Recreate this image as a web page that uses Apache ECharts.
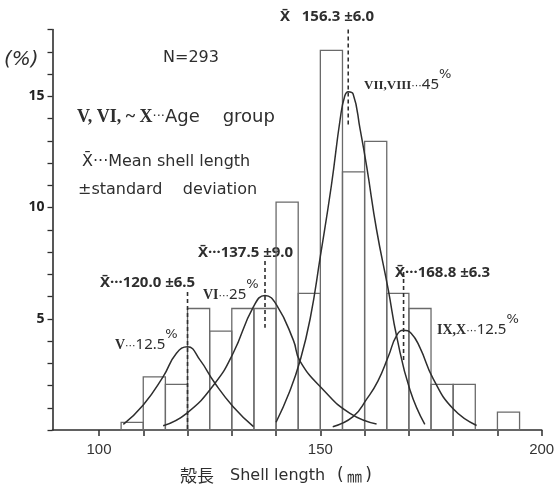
<!DOCTYPE html>
<html><head><meta charset="utf-8">
<script src="https://cdn.jsdelivr.net/npm/echarts@6/dist/echarts.min.js"></script>
<style>html,body{margin:0;padding:0;background:#fff}#c{width:556px;height:487px}</style>
</head><body><div id="c"></div>
<script>
// Histogram bins (lower edge, mm) and percentage of N=293
const binLower = [105,110,115,120,125,130,135,140,145,150,155,160,165,170,175,180,185,190];
const binWidth = 5;
const binPct   = [0.34,2.39,2.05,5.46,4.44,5.46,5.46,10.24,6.14,17.06,11.60,12.97,6.14,5.46,2.05,2.05,0,0.8];

// Fitted age-group curves [mm, %]
const curveV = [[105.5,0.25],[110.0,1.12],[114.5,2.4],[117.5,3.45],[120.0,3.74],[122.8,3.15],[126.2,2.1],[130.3,1.05],[134.9,0.15]];
const curveVI = [[114.5,0.19],[119.8,0.75],[126.2,2.1],[130.3,3.45],[134.9,5.54],[137.5,6.05],[140.1,5.62],[143.9,4.04],[145.4,3.1],[150.7,1.8],[156.7,0.75],[162.7,0.27]];
const curveVII = [[140.0,0.35],[143.0,1.7],[145.4,3.1],[147.7,5.0],[150.0,7.8],[152.5,11.0],[154.5,14.0],[155.5,15.0],[156.3,15.2],[157.4,15.1],[159.0,13.5],[160.5,11.8],[162.7,9.0],[165.35,6.3],[167.25,4.2],[170.25,1.8],[173.6,0.25]];
const curveIX = [[152.8,0.15],[157.4,0.6],[160.5,1.4],[163.0,2.2],[165.35,3.3],[167.25,4.25],[168.8,4.48],[170.5,4.35],[172.5,3.7],[175.5,2.3],[180.0,0.95],[185.3,0.2]];

// Mean markers: [mean, top %, bottom %]
const meanLines = [[120.0,6.2,0],[137.5,7.6,4.6],[156.3,18.0,13.7],[168.8,7.1,3.1]];

const xTicks = [100,110,120,130,140,150,160,170,180,190,200];
const xTickLabels = [100,150,200];
const yTicks = [0,1,2,3,4,5,6,7,8,9,10,11,12,13,14,15,16,17,18];
const yTickLabels = [5,10,15];

const ink = '#2e2e2e';
const barInk = '#6a6a6a';
const chart = echarts.init(document.getElementById('c'), null, {renderer:'canvas'});

function curve(d){
  return {type:'line', data:d, smooth:0.5, symbol:'none', silent:true,
    lineStyle:{color:ink, width:1.5}, z:3};
}
const series = [{
  type:'custom',
  data: binLower.map((b,i)=>[b, b+binWidth, binPct[i]]),
  renderItem:function(params, api){
    const p0 = api.coord([api.value(0), api.value(2)]);
    const p1 = api.coord([api.value(1), 0]);
    return {type:'rect', shape:{x:p0[0], y:p0[1], width:p1[0]-p0[0], height:p1[1]-p0[1]},
      style:{fill:'none', stroke:barInk, lineWidth:1.3}};
  }, z:2
}, curve(curveV), curve(curveVI), curve(curveVII), curve(curveIX)];
meanLines.forEach(m=>{
  series.push({type:'line', data:[[m[0],m[1]],[m[0],m[2]]], symbol:'none', silent:true,
    lineStyle:{color:ink, width:1.6, type:[4,3]}, z:4});
});

const SANS = '"DejaVu Sans", "Noto Sans CJK JP", sans-serif';
const SERIF = '"Liberation Serif", "DejaVu Serif", serif';
const txt = (x,y,t,font)=>({type:'text', x:x, y:y, silent:true,
  style:{text:t, fill:ink, font:font, verticalAlign:'middle', align:'left'}});
const rtxt = (x,y,t,rich)=>({type:'text', x:x, y:y, silent:true,
  style:{text:t, fill:ink, verticalAlign:'middle', align:'left', rich:rich}});
const mkRoman = rs => ({
  r:{font:'bold '+rs+'px '+SERIF, fill:ink, lineHeight:24, verticalAlign:'bottom'},
  d:{font:'11px '+SANS, fill:ink, lineHeight:24, verticalAlign:'bottom'},
  n:{font:'15px "Noto Sans", '+SANS, fill:ink, lineHeight:24, verticalAlign:'bottom'},
  p:{font:'13px '+SANS, fill:ink, lineHeight:13, verticalAlign:'top'}
});
const XB = 'X\u0304';
const boldLbl = 'bold 15px "Noto Sans", sans-serif';

chart.setOption({
  animation:false,
  backgroundColor:'#fff',
  grid:{left:52.5, right:14.3, top:29.5, bottom:57, containLabel:false, outerBoundsMode:'none'},
  xAxis:{type:'value', min:89.5, max:200,
    axisLine:{show:true, lineStyle:{color:ink, width:1.6}},
    axisTick:{show:true, customValues:xTicks, length:6, lineStyle:{color:ink, width:1.5}},
    axisLabel:{customValues:xTickLabels, fontSize:15, color:'#333', margin:12, fontFamily:'"Liberation Sans", sans-serif'},
    splitLine:{show:false}},
  yAxis:{type:'value', min:0, max:18,
    axisLine:{show:true, lineStyle:{color:ink, width:1.6}},
    axisTick:{show:true, customValues:yTicks, length:5, lineStyle:{color:ink, width:1.3}},
    axisLabel:{customValues:yTickLabels, fontSize:14, fontWeight:'bold', color:'#222', margin:8, fontFamily:'"Noto Sans", sans-serif'},
    splitLine:{show:false}},
  series: series,
  graphic:[
    txt(4,60,'(%)','italic 20px '+SANS),
    txt(163,58,'N=293','16px '+SANS),
    rtxt(77,117,'{r|V, VI, ~ X}{d|···}{t|Age    group}',{
      r:{font:'bold 18px '+SERIF, fill:ink}, d:{font:'13px '+SANS, fill:ink}, t:{font:'18px '+SANS, fill:ink}}),
    txt(82,162,XB+'···Mean shell length','16px '+SANS),
    txt(78,190,'±standard    deviation','16px '+SANS),
    txt(280,17,XB+'   156.3 ±6.0',boldLbl),
    rtxt(364,80,'{r|VII,VIII}{d|···}{n|45}{p|%}',mkRoman(13)),
    txt(198,253,XB+'···137.5 ±9.0',boldLbl),
    txt(100,283,XB+'···120.0 ±6.5',boldLbl),
    rtxt(203,290,'{r|VI}{d|···}{n|25}{p|%}',mkRoman(14)),
    rtxt(115,340,'{r|V}{d|···}{n|12.5}{p|%}',mkRoman(14)),
    txt(395,273,XB+'···168.8 ±6.3',boldLbl),
    rtxt(437,325,'{r|IX,X}{d|···}{n|12.5}{p|%}',mkRoman(14)),
    txt(180,476,'殻長','17px "Noto Sans CJK JP", sans-serif'),
    txt(230,476,'Shell length','16px '+SANS),
    rtxt(337,476,'{a|(}{b| ㎜ }{a|)}',{
      a:{font:'17px '+SANS, fill:ink}, b:{font:'15px "Noto Sans CJK JP", sans-serif', fill:ink}})
  ]
});
</script></body></html>
